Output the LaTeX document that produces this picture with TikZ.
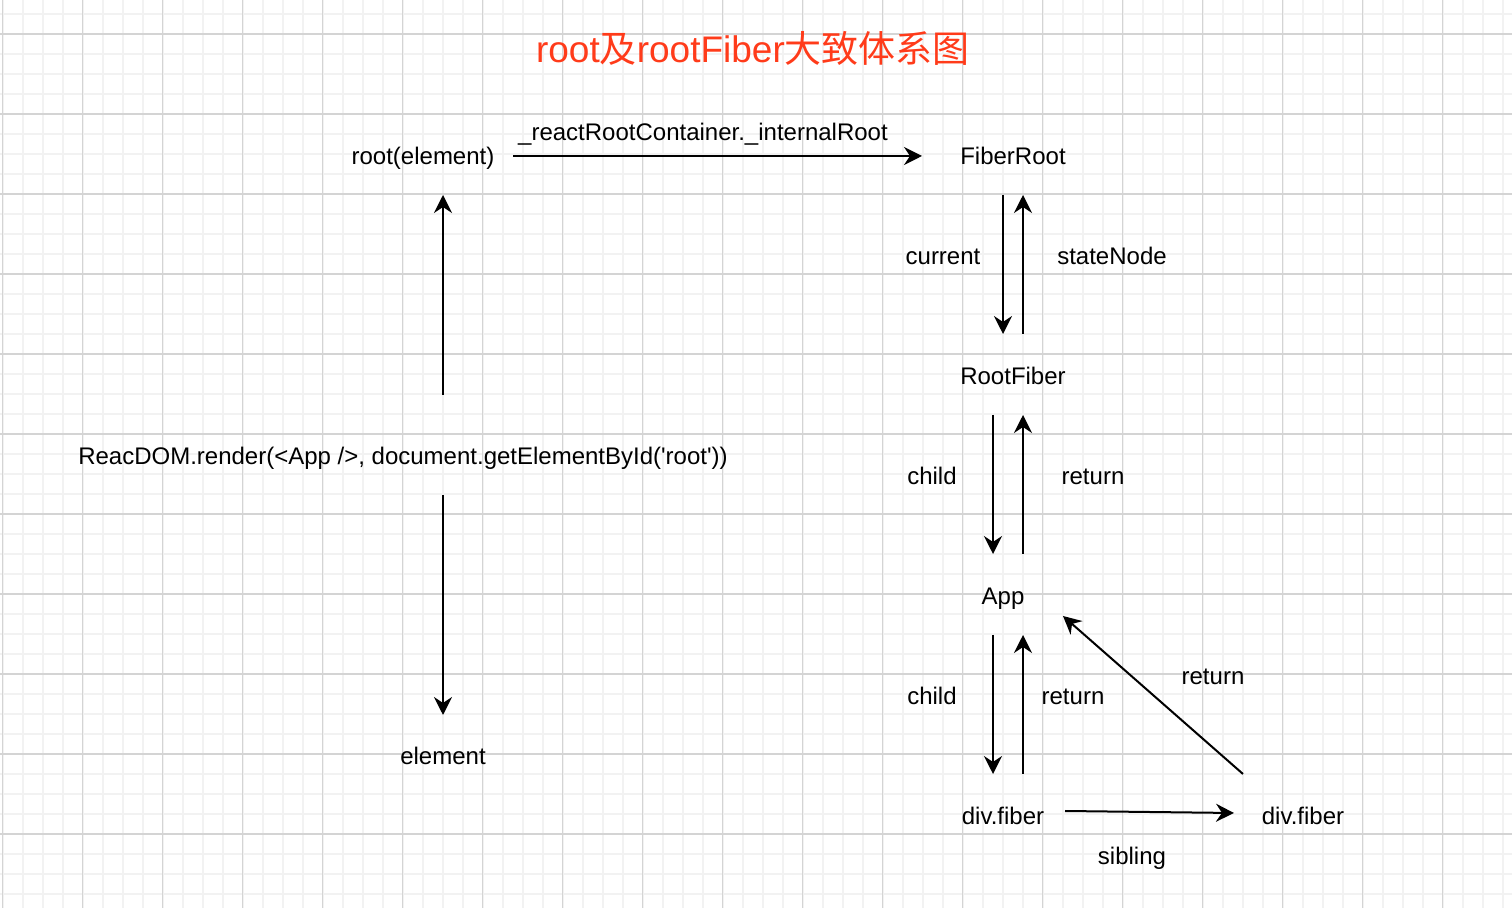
\documentclass[tikz,border=0pt]{standalone}
\usepackage{fontspec}
\setmainfont{Liberation Sans}[Ligatures=TeXOff]
\newfontfamily\cjk{Noto Sans CJK SC}
\usetikzlibrary{arrows.meta}
\definecolor{titlered}{HTML}{FF3B1A}
\tikzset{
  gridminor/.style={line width=1pt, draw=black!5},
  gridmajor/.style={line width=0.6pt, draw=black!17},
  lbl/.style={font=\fontsize{12}{14}\selectfont, inner sep=0pt, text height=9.5pt, text depth=1pt},
  headline/.style={font=\fontsize{18.5}{22}\selectfont, text=titlered, inner sep=0pt, anchor=base},
  link/.style={line width=1pt, draw=black, -{Stealth[length=9pt,width=9pt,inset=3pt]}},
}

\begin{document}
\begin{tikzpicture}[x=0.5pt, y=-0.5pt]
\useasboundingbox (0,0) rectangle (1512,908);
\fill[white] (0,0) rectangle (1512,908);
% background grid
\foreach \gx in {2.7,22.7,...,1512} \draw[gridminor] (\gx,0) -- (\gx,908);
\foreach \gy in {-6,14,...,908} \draw[gridminor] (0,\gy) -- (1512,\gy);
\foreach \gx in {2.7,82.7,...,1512} \draw[gridmajor] (\gx,0) -- (\gx,908);
\foreach \gy in {34,114,...,908} \draw[gridmajor] (0,\gy) -- (1512,\gy);
% title
\node[headline] (title) at (753,62.5) {root{\cjk 及}rootFiber{\cjk 大致体系图}};
% left column
\node[lbl] (rootel) at (423,156) {root(element)};
\node[lbl] (render) at (403,456) {ReacDOM.render(<App />, document.getElementById('root'))};
\node[lbl] (element) at (443,756) {element};
\node[lbl] (irlabel) at (703,132) {\_reactRootContainer.\_internalRoot};
% fiber tree
\node[lbl] (fiberroot) at (1013,156) {FiberRoot};
\node[lbl] (current) at (943,256) {current};
\node[lbl] (statenode) at (1112,256) {stateNode};
\node[lbl] (rootfiber) at (1013,376) {RootFiber};
\node[lbl] (childa) at (932,476) {child};
\node[lbl] (returna) at (1093,476) {return};
\node[lbl] (app) at (1003,596) {App};
\node[lbl] (childb) at (932,696) {child};
\node[lbl] (returnb) at (1073,696) {return};
\node[lbl] (returnc) at (1213,676) {return};
\node[lbl] (divl) at (1003,816) {div.fiber};
\node[lbl] (divr) at (1303,816) {div.fiber};
\node[lbl] (sibling) at (1132,856) {sibling};
% connectors
\draw[link] ([shift={(90,0)}]rootel.center) -- ([shift={(-91,0)}]fiberroot.center);
\draw[link] ([shift={(40,-61)}]render.center) -- ([shift={(20,39)}]rootel.center);
\draw[link] ([shift={(40,39)}]render.center) -- ([shift={(0,-41)}]element.center);
\draw[link] ([shift={(-10,39)}]fiberroot.center) -- ([shift={(-10,-42)}]rootfiber.center);
\draw[link] ([shift={(10,-42)}]rootfiber.center) -- ([shift={(10,39)}]fiberroot.center);
\draw[link] ([shift={(-20,39)}]rootfiber.center) -- ([shift={(-10,-42)}]app.center);
\draw[link] ([shift={(20,-42)}]app.center) -- ([shift={(10,39)}]rootfiber.center);
\draw[link] ([shift={(-10,39)}]app.center) -- ([shift={(-10,-42)}]divl.center);
\draw[link] ([shift={(20,-42)}]divl.center) -- ([shift={(20,39)}]app.center);
\draw[link] ([shift={(-60,-42)}]divr.center) -- ([shift={(60,20)}]app.center);
\draw[link] ([shift={(62,-5)}]divl.center) -- ([shift={(-69,-3)}]divr.center);
\end{tikzpicture}
\end{document}
